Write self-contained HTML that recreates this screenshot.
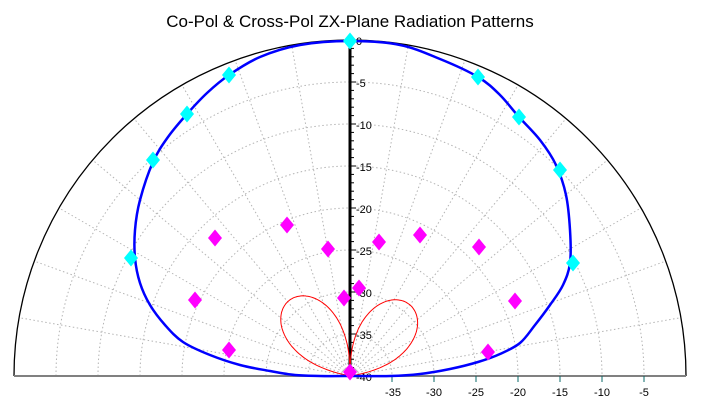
<!DOCTYPE html>
<html><head><meta charset="utf-8"><style>
html,body{margin:0;padding:0;background:#fff;}
svg{display:block;font-family:"Liberation Sans",Arial,sans-serif;}
</style></head><body>
<svg id="s" width="704" height="409" viewBox="0 0 704 409" xmlns="http://www.w3.org/2000/svg">
<rect width="704" height="409" fill="#fff"/>
<text x="350" y="27" font-size="17" text-anchor="middle" fill="#000">Co-Pol &amp; Cross-Pol ZX-Plane Radiation Patterns</text>
<g id="grid" stroke="#b4b4b4" stroke-width="1" stroke-dasharray="1.5,2.5" fill="none"></g>
<path d="M14,376 A336,336 0 0 1 686,376" stroke="#000" stroke-width="1.3" fill="none"/>
<line x1="14" y1="376" x2="686" y2="376" stroke="#808080" stroke-width="2"/>
<g id="ticks" stroke="#0a6a6a" stroke-width="1"></g>
<line x1="350" y1="40" x2="350" y2="376" stroke="#000" stroke-width="3"/>
<g id="minor" stroke="#000" stroke-width="1"></g>
<g font-size="11" fill="#000">
<text x="356" y="45">0</text>
<text x="356" y="87">-5</text>
<text x="356" y="129">-10</text>
<text x="356" y="171">-15</text>
<text x="356" y="213">-20</text>
<text x="356" y="255">-25</text>
<text x="356" y="297">-30</text>
<text x="356" y="339">-35</text>
<text x="356" y="381">-40</text>
</g>
<g font-size="11" fill="#000" text-anchor="middle">
<text x="393" y="396">-35</text>
<text x="434" y="396">-30</text>
<text x="476" y="396">-25</text>
<text x="518" y="396">-20</text>
<text x="560" y="396">-15</text>
<text x="602" y="396">-10</text>
<text x="644" y="396">-5</text>
</g>
<path id="red" stroke="#ff0000" stroke-width="1" fill="none"/>
<path id="blue" fill="none" stroke="#0000ff" stroke-width="2.5"/>
<g id="dia"></g>
</svg>
<script>
var ns="http://www.w3.org/2000/svg",cx=350,cy=376,R=336;
function el(p,t,a){var e=document.createElementNS(ns,t);for(var k in a)e.setAttribute(k,a[k]);p.appendChild(e);return e;}
var g=document.getElementById('grid');
for(var i=1;i<8;i++){var r=i*42;el(g,'path',{d:'M'+(cx-r)+','+cy+' A'+r+','+r+' 0 0 1 '+(cx+r)+','+cy});}
for(var a=10;a<180;a+=10){if(a==90)continue;var t=a*Math.PI/180;el(g,'line',{x1:cx,y1:cy,x2:cx+R*Math.cos(t),y2:cy-R*Math.sin(t)});}
var tk=document.getElementById('ticks');
for(var i=1;i<8;i++){var x=cx+i*42;el(tk,'line',{x1:x,y1:376,x2:x,y2:382});}
var mn=document.getElementById('minor');
for(var i=1;i<40;i++){var y=cy-i*8.4;el(mn,'line',{x1:350,y1:y,x2:(i%5==0?356:354),y2:y});}
function lobe(sign,A,span){var s='';for(var k=0;k<=120;k++){var th=span*k/120;var r=A*Math.pow(Math.sin(Math.PI*th/span),0.7);var t=th*Math.PI/180;var x=cx+sign*r*Math.sin(t),y=cy-r*Math.cos(t);s+=(k?'L':'M')+x.toFixed(1)+','+y.toFixed(1);}return s;}
document.getElementById('red').setAttribute('d',lobe(-1,97,78)+lobe(1,93,80));
var P=[[350,376],[320,376],[295,375],[270,371],[240,365],[210,355],[183,342],[165,325],[150,305],[140,283],[135,258],[135,230],[140,200],[153,162],[168,137],[187,114],[207,93],[229,75],[260,57],[300,45],[350,41],[400,45],[440,59],[478,77],[500,95],[519,117],[540,140],[556,165],[566,195],[570,230],[570,263],[563,285],[550,305],[535,325],[520,343],[500,354],[478,362],[450,369],[420,374],[390,376],[350,376]];
var d='M'+P[0][0]+','+P[0][1];
for(var i=0;i<P.length-1;i++){var p0=P[Math.max(0,i-1)],p1=P[i],p2=P[i+1],p3=P[Math.min(P.length-1,i+2)];
d+=' C'+(p1[0]+(p2[0]-p0[0])/6).toFixed(1)+','+(p1[1]+(p2[1]-p0[1])/6).toFixed(1)+' '+(p2[0]-(p3[0]-p1[0])/6).toFixed(1)+','+(p2[1]-(p3[1]-p1[1])/6).toFixed(1)+' '+p2[0]+','+p2[1];}
document.getElementById('blue').setAttribute('d',d);
var dg=document.getElementById('dia');
function dm(x,y,c){el(dg,'path',{d:'M'+x+','+(y-8.5)+' L'+(x+7)+','+y+' L'+x+','+(y+8.5)+' L'+(x-7)+','+y+'Z',fill:c});}
[[350,41],[229,75],[187,114],[153,160],[131,258],[478,77],[519,117],[560,170],[573,263]].forEach(function(p){dm(p[0],p[1],'#00ffff');});
[[215,238],[287,225],[328,249],[379,242],[420,235],[479,247],[195,300],[229,350],[344,298],[359,288],[515,301],[488,352],[350,372]].forEach(function(p){dm(p[0],p[1],'#ff00ff');});
</script>
</body></html>
